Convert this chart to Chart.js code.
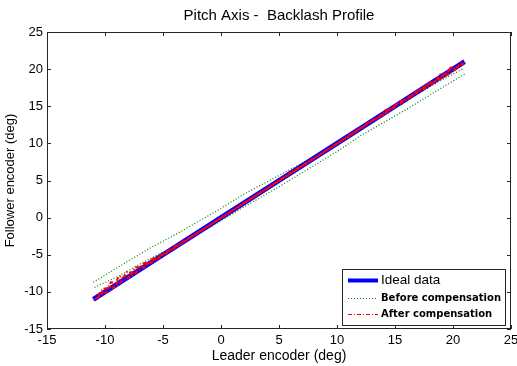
<!DOCTYPE html>
<html>
<head>
<meta charset="utf-8">
<script src="https://cdn.jsdelivr.net/npm/chart.js@4/dist/chart.umd.min.js"></script>
<style>
  html, body { margin: 0; padding: 0; background: #fff; }
</style>
</head>
<body>
<canvas id="c" width="517" height="366"></canvas>
<script>
// ticks
const xTicks = [-15, -10, -5, 0, 5, 10, 15, 20, 25];
const yTicks = [-15, -10, -5, 0, 5, 10, 15, 20, 25];

// Ideal data
const idealX = [-11, -5, 0, 5, 10, 15, 21];
const idealY = [-11, -5, 0, 5, 10, 15, 21];

// Before compensation: two branches + short inner strands (null = break)
const beforeX = [20.9, 18, 15, 12, 10, 8, 6, 4, 2, 0, -2, -4, -6, -8, -10, -11,
  null, -10.5, -8, -5, -2, 0, 2, 4, 6, 8, 10, 12, 14, 16, 18, 20, 21,
  null, -10.9, -9.8, -8.6, -7.4, -6.2, -5,
  null, 20.8, 19.6, 18.2, 16.8, 15.4];
const beforeY = [20.7, 17.9, 15.0, 12.05, 10.1, 8.2, 6.5, 4.85, 3.2, 1.25, -0.55, -2.35, -4.0, -5.85, -7.75, -8.7,
  null, -10.45, -8.05, -5.15, -2.25, -0.4, 1.45, 3.25, 5.1, 7.0, 8.9, 11.0, 12.8, 14.6, 16.5, 18.4, 19.3,
  null, -9.4, -8.6, -7.7, -6.6, -5.6, -4.6,
  null, 20.0, 19.0, 17.8, 16.5, 15.1];

// After compensation (up, down, up again; jittery near the ends)
const afterX = [-10.6, -10.2, -9.8, -9.5, -9.1, -8.8, -8.4, -8.1, -7.7, -7.4, -7.0, -6.6, -6.2, -5.8, -5.4, -4.8, -4.0, -3.0, -2, 0, 2, 4, 6, 8, 10,
  11.5, 12.2, 12.8, 13.5, 14.2, 14.8, 15.3, 16.0, 16.6, 17.2, 17.8, 18.4, 18.9, 19.4, 19.8, 20.3, 20.7, 20.9,
  20.6, 20.0, 19.3, 18.6, 17.8, 17.0, 16.0, 15.0, 14.0, 12.5, 11.0, 9, 7, 5, 3, 1, -1, -3, -5, -6.5, -7.8, -8.8, -9.6, -10.4,
  -10.7, -9.9, -9.2, -8.5, -7.8, -7.1, -6.3, -5.1, -3.7, -2.3, -0.8, 0.7, 2.2, 3.7, 5.2, 6.7, 8.2, 9.7, 11.2,
  12.6, 13.9, 15.1, 16.3, 17.4, 18.6, 19.6, 20.5];
const afterY = [-10.5, -9.6, -9.5, -8.7, -8.8, -7.9, -8.0, -7.3, -7.4, -6.7, -6.7, -6.1, -6.0, -5.4, -5.3, -4.7, -3.9, -3.0, -2.0, -0.05, 2.0, 4.0, 6.05, 8.0, 10.0,
  11.6, 12.1, 12.9, 13.4, 14.5, 14.7, 15.6, 15.9, 16.9, 17.1, 18.1, 18.3, 19.3, 19.3, 20.2, 20.1, 20.9, 20.8,
  20.4, 19.7, 19.0, 18.5, 17.6, 16.9, 15.9, 14.9, 13.9, 12.5, 10.9, 8.95, 6.95, 4.95, 2.95, 0.95, -1.05, -3.05, -5.1, -6.55, -7.9, -8.9, -9.8, -10.6,
  -10.8, -9.6, -9.1, -8.1, -7.7, -6.7, -6.2, -5.0, -3.75, -2.35, -0.85, 0.65, 2.15, 3.65, 5.15, 6.65, 8.15, 9.65, 11.15,
  12.7, 13.8, 15.3, 16.2, 17.6, 18.5, 19.8, 20.4];

const pts = (xs, ys) => xs.map((x, i) => (x === null ? { x: NaN, y: null } : { x: x, y: ys[i] }));

const AXIS = "#262626";
const FONT = "'Liberation Sans', Arial, sans-serif";

// box + inward ticks on all four sides (MATLAB style)
const frame = {
  id: "frame",
  afterDatasetsDraw(chart) {
    const { ctx, chartArea: a, scales: { x, y } } = chart;
    const l = Math.round(a.left), r = Math.round(a.right), t = Math.round(a.top), b = Math.round(a.bottom);
    ctx.save();
    ctx.strokeStyle = AXIS;
    ctx.lineWidth = 1;
    ctx.strokeRect(l + 0.5, t + 0.5, r - l - 1, b - t - 1);
    const tl = 4;
    ctx.beginPath();
    xTicks.forEach(v => {
      const px = Math.round(x.getPixelForValue(v)) + 0.5;
      ctx.moveTo(px, t); ctx.lineTo(px, t + tl);
      ctx.moveTo(px, b); ctx.lineTo(px, b - tl);
    });
    yTicks.forEach(v => {
      const py = Math.round(y.getPixelForValue(v)) + 0.5;
      ctx.moveTo(l, py); ctx.lineTo(l + tl, py);
      ctx.moveTo(r, py); ctx.lineTo(r - tl, py);
    });
    ctx.stroke();
    ctx.restore();
  }
};

// legend box in the lower right of the axes
const legendBox = {
  id: "legendBox",
  afterDraw(chart) {
    const { ctx, chartArea: a } = chart;
    const w = 163, h = 56;
    const L = Math.round(a.right) - 6 - w, T = Math.round(a.bottom) - 4 - h;
    const rows = [11, 29, 45];
    const fonts = ["13.5px " + FONT, "bold 10px 'DejaVu Sans', sans-serif", "bold 10px 'DejaVu Sans', sans-serif"];
    ctx.save();
    ctx.fillStyle = "#fff";
    ctx.fillRect(L, T, w, h);
    ctx.strokeStyle = AXIS;
    ctx.lineWidth = 1;
    ctx.strokeRect(L + 0.5, T + 0.5, w, h);
    chart.data.datasets.forEach((ds, i) => {
      const yy = T + rows[i] + 0.5;
      ctx.strokeStyle = ds.borderColor;
      ctx.lineWidth = i === 0 ? 4 : 1;
      ctx.setLineDash(ds.borderDash || []);
      ctx.beginPath();
      ctx.moveTo(L + 6, yy);
      ctx.lineTo(L + 36, yy);
      ctx.stroke();
      ctx.setLineDash([]);
      ctx.fillStyle = "#000";
      ctx.font = fonts[i];
      ctx.textBaseline = "middle";
      ctx.fillText(ds.label, L + 39, yy);
    });
    ctx.restore();
  }
};

new Chart(document.getElementById("c"), {
  type: "scatter",
  data: {
    datasets: [
      { label: "Ideal data", data: pts(idealX, idealY), showLine: true, borderColor: "rgb(0,0,255)",
        borderWidth: 5, pointRadius: 0, order: 1 },
      { label: "Before compensation", data: pts(beforeX, beforeY), showLine: true, borderColor: "rgb(0,128,0)",
        borderWidth: 1.2, borderDash: [1, 2], pointRadius: 0, spanGaps: false, order: 2 },
      { label: "After compensation", data: pts(afterX, afterY), showLine: true, borderColor: "rgb(255,0,0)",
        borderWidth: 2, borderDash: [4, 2, 1, 2], pointRadius: 0, order: 0 }
    ]
  },
  options: {
    responsive: false,
    animation: false,
    layout: { padding: 0 },
    plugins: {
      legend: { display: false },
      tooltip: { enabled: false },
      title: {
        display: true, fullSize: false,
        text: "Pitch Axis -  Backlash Profile",
        color: "#000",
        font: { family: FONT, size: 15, weight: "normal" },
        padding: { top: 7, bottom: 7 }
      }
    },
    scales: {
      x: {
        type: "linear", min: -15, max: 25,
        afterBuildTicks: s => { s.ticks = xTicks.map(v => ({ value: v })); },
        afterFit: s => { s.height = 37; s.paddingLeft = 0; s.paddingRight = 6; },
        grid: { display: false, drawTicks: false },
        border: { display: false },
        ticks: { color: "#000", padding: 4, maxRotation: 0, font: { family: FONT, size: 13 } },
        title: { display: true, text: "Leader encoder (deg)", color: "#000",
          font: { family: FONT, size: 14 }, padding: { top: 0, bottom: 1 } }
      },
      y: {
        type: "linear", min: -15, max: 25,
        afterBuildTicks: s => { s.ticks = yTicks.map(v => ({ value: v })); },
        afterFit: s => { s.width = 47; },
        grid: { display: false, drawTicks: false },
        border: { display: false },
        ticks: { color: "#000", padding: 4, font: { family: FONT, size: 13 } },
        title: { display: true, text: "Follower encoder (deg)", color: "#000",
          font: { family: FONT, size: 13 }, padding: { top: 3, bottom: 0 } }
      }
    }
  },
  plugins: [frame, legendBox]
});
</script>
</body>
</html>
